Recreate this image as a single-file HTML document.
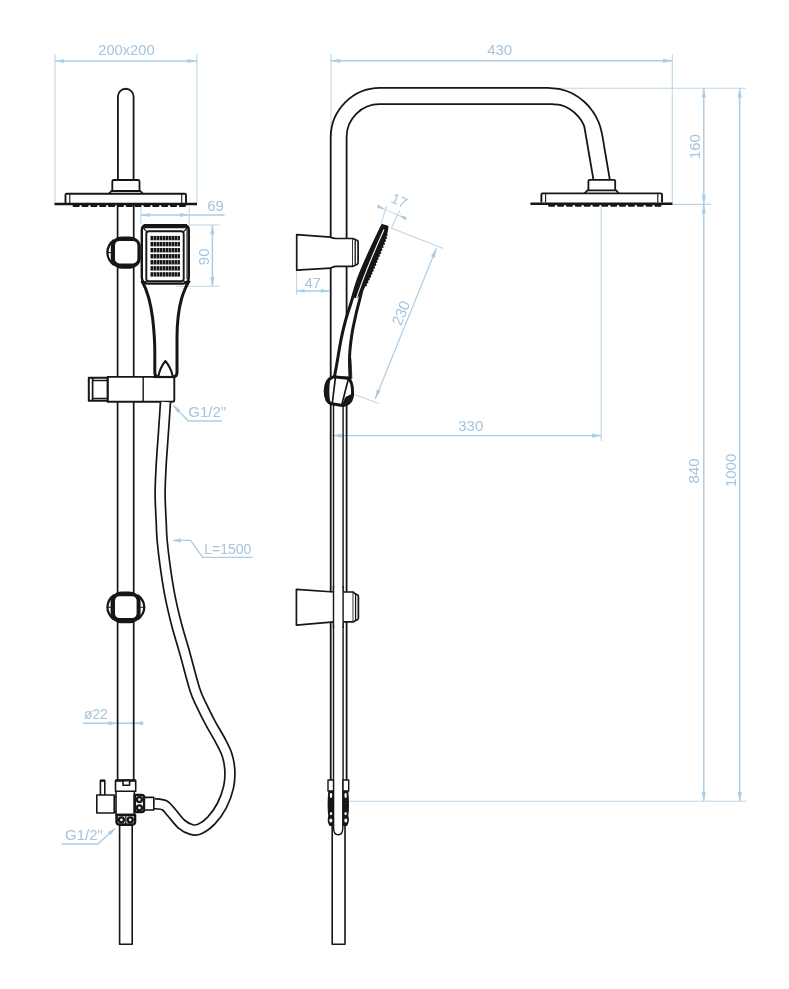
<!DOCTYPE html>
<html lang="pl">
<head>
<meta charset="utf-8">
<title>Shower column – technical drawing</title>
<style>
html,body{margin:0;padding:0;background:#fff;}
body{width:789px;height:989px;overflow:hidden;}
svg{display:block;font-family:"Liberation Sans","DejaVu Sans",sans-serif;}
</style>
</head>
<body>
<svg width="789" height="989" viewBox="0 0 789 989">
<rect width="789" height="989" fill="#ffffff"/>
<g id="left" fill="none" stroke="#161616" stroke-width="1.8" stroke-linejoin="round">
<path d="M117.9,180 V96.6 A7.85,7.85 0 0 1 133.6,96.6 V180"/>
<path d="M117.6,205 V780 M133.7,205 V780" stroke-width="1.7"/>
<path d="M119.6,824 V944.2 H132.2 V824" stroke-width="1.6"/>
<path d="M112.3,191 V181.5 Q112.3,180 113.8,180 H138 Q139.5,180 139.5,181.5 V191" fill="#fff"/>
<path d="M108.8,193.8 L111.5,191 H140.3 L143,193.8" fill="#fff"/>
<path d="M65.5,203 V195 Q65.5,193.8 66.7,193.8 H184.8 Q186,193.8 186,195 V203" fill="#fff" stroke-width="1.9"/>
<path d="M69.8,194 V203 M181.7,194 V203" stroke-width="1.1"/>
<path d="M54.5,204 H197" stroke-width="2.4"/>
<path d="M74.0,205.7 h4.4 M82.8,205.7 h4.4 M91.7,205.7 h4.4 M100.5,205.7 h4.4 M109.4,205.7 h4.4 M118.2,205.7 h4.4 M127.1,205.7 h4.4 M135.9,205.7 h4.4 M144.8,205.7 h4.4 M153.6,205.7 h4.4 M162.5,205.7 h4.4 M171.3,205.7 h4.4 M180.2,205.7 h4.4" stroke-width="2.8" stroke-linecap="round"/>
</g>
<g id="knob1" stroke="#161616" fill="none">
<path d="M114,240 Q107.4,245 107.4,252.6 Q107.4,260 114,265" stroke-width="2.2" fill="#fff"/>
<path d="M107,252.6 H112" stroke-width="1.1"/>
<rect x="110.8" y="236.4" width="30" height="32.3" rx="11" ry="10.5" fill="#161616" stroke="none"/>
<rect x="115" y="241" width="22.4" height="22.4" rx="4.5" ry="4.5" fill="#fff" stroke="none"/>
</g>
<g id="knob2" stroke="#161616" fill="none">
<path d="M114,595 Q107.4,600 107.4,607.3 Q107.4,614.5 114,619.6" stroke-width="2.2" fill="#fff"/>
<path d="M137.4,595 Q144.3,600 144.3,607.3 Q144.3,614.5 137.4,619.6" stroke-width="2.2" fill="#fff"/>
<path d="M107,607.3 H112 M139.5,607.3 H144.6" stroke-width="1.1"/>
<rect x="110.6" y="591.4" width="30" height="31.9" rx="11" ry="10.5" fill="#161616" stroke="none"/>
<rect x="115" y="596.3" width="21.6" height="21.7" rx="4.5" ry="4.5" fill="#fff" stroke="none"/>
</g>
<g id="hand" stroke="#161616" fill="none" stroke-linejoin="round">
<path d="M141.8,280.5 C146.5,289 150.6,302 152.6,318 C154,330 154.8,342 154.8,352 V372.6 Q154.8,377 159.2,377 H172.6 Q177,377 177,372.6 V338 C177,324 178.4,310 181.6,298.5 C184,290.5 186.6,285 189.4,280.5" fill="#fff" stroke-width="3"/>
<path d="M141.8,230 Q141.8,225.8 146,225.8 H184.6 Q188.8,225.8 188.8,230 V277 Q188.8,283.6 183,283.6 H147.6 Q141.8,283.6 141.8,277 Z" fill="#fff" stroke-width="2.4"/>
<path d="M143.6,226.2 H187" stroke-width="4.2"/>
<path d="M187,229 V279" stroke-width="1.1"/>
<rect x="146.3" y="231.3" width="37.4" height="50" rx="2.5" fill="#fff" stroke-width="1.9"/>
<path d="M142.6,227 L146.6,231.6 M188.2,227 L183.6,231.6 M142.8,282.6 L146.6,281 M188,282.6 L183.6,281" stroke-width="1.2"/>
<g fill="#161616" stroke="none"><rect x="150.50" y="235.90" width="2.55" height="4.4"/><rect x="153.49" y="235.90" width="2.55" height="4.4"/><rect x="156.48" y="235.90" width="2.55" height="4.4"/><rect x="159.47" y="235.90" width="2.55" height="4.4"/><rect x="162.46" y="235.90" width="2.55" height="4.4"/><rect x="165.45" y="235.90" width="2.55" height="4.4"/><rect x="168.44" y="235.90" width="2.55" height="4.4"/><rect x="171.43" y="235.90" width="2.55" height="4.4"/><rect x="174.42" y="235.90" width="2.55" height="4.4"/><rect x="177.41" y="235.90" width="2.55" height="4.4"/><rect x="150.50" y="241.95" width="2.55" height="4.4"/><rect x="153.49" y="241.95" width="2.55" height="4.4"/><rect x="156.48" y="241.95" width="2.55" height="4.4"/><rect x="159.47" y="241.95" width="2.55" height="4.4"/><rect x="162.46" y="241.95" width="2.55" height="4.4"/><rect x="165.45" y="241.95" width="2.55" height="4.4"/><rect x="168.44" y="241.95" width="2.55" height="4.4"/><rect x="171.43" y="241.95" width="2.55" height="4.4"/><rect x="174.42" y="241.95" width="2.55" height="4.4"/><rect x="177.41" y="241.95" width="2.55" height="4.4"/><rect x="150.50" y="248.00" width="2.55" height="4.4"/><rect x="153.49" y="248.00" width="2.55" height="4.4"/><rect x="156.48" y="248.00" width="2.55" height="4.4"/><rect x="159.47" y="248.00" width="2.55" height="4.4"/><rect x="162.46" y="248.00" width="2.55" height="4.4"/><rect x="165.45" y="248.00" width="2.55" height="4.4"/><rect x="168.44" y="248.00" width="2.55" height="4.4"/><rect x="171.43" y="248.00" width="2.55" height="4.4"/><rect x="174.42" y="248.00" width="2.55" height="4.4"/><rect x="177.41" y="248.00" width="2.55" height="4.4"/><rect x="150.50" y="254.05" width="2.55" height="4.4"/><rect x="153.49" y="254.05" width="2.55" height="4.4"/><rect x="156.48" y="254.05" width="2.55" height="4.4"/><rect x="159.47" y="254.05" width="2.55" height="4.4"/><rect x="162.46" y="254.05" width="2.55" height="4.4"/><rect x="165.45" y="254.05" width="2.55" height="4.4"/><rect x="168.44" y="254.05" width="2.55" height="4.4"/><rect x="171.43" y="254.05" width="2.55" height="4.4"/><rect x="174.42" y="254.05" width="2.55" height="4.4"/><rect x="177.41" y="254.05" width="2.55" height="4.4"/><rect x="150.50" y="260.10" width="2.55" height="4.4"/><rect x="153.49" y="260.10" width="2.55" height="4.4"/><rect x="156.48" y="260.10" width="2.55" height="4.4"/><rect x="159.47" y="260.10" width="2.55" height="4.4"/><rect x="162.46" y="260.10" width="2.55" height="4.4"/><rect x="165.45" y="260.10" width="2.55" height="4.4"/><rect x="168.44" y="260.10" width="2.55" height="4.4"/><rect x="171.43" y="260.10" width="2.55" height="4.4"/><rect x="174.42" y="260.10" width="2.55" height="4.4"/><rect x="177.41" y="260.10" width="2.55" height="4.4"/><rect x="150.50" y="266.15" width="2.55" height="4.4"/><rect x="153.49" y="266.15" width="2.55" height="4.4"/><rect x="156.48" y="266.15" width="2.55" height="4.4"/><rect x="159.47" y="266.15" width="2.55" height="4.4"/><rect x="162.46" y="266.15" width="2.55" height="4.4"/><rect x="165.45" y="266.15" width="2.55" height="4.4"/><rect x="168.44" y="266.15" width="2.55" height="4.4"/><rect x="171.43" y="266.15" width="2.55" height="4.4"/><rect x="174.42" y="266.15" width="2.55" height="4.4"/><rect x="177.41" y="266.15" width="2.55" height="4.4"/><rect x="150.50" y="272.20" width="2.55" height="4.4"/><rect x="153.49" y="272.20" width="2.55" height="4.4"/><rect x="156.48" y="272.20" width="2.55" height="4.4"/><rect x="159.47" y="272.20" width="2.55" height="4.4"/><rect x="162.46" y="272.20" width="2.55" height="4.4"/><rect x="165.45" y="272.20" width="2.55" height="4.4"/><rect x="168.44" y="272.20" width="2.55" height="4.4"/><rect x="171.43" y="272.20" width="2.55" height="4.4"/><rect x="174.42" y="272.20" width="2.55" height="4.4"/><rect x="177.41" y="272.20" width="2.55" height="4.4"/></g>
</g>
<g id="holder" stroke="#161616" fill="none" stroke-linejoin="round">
<path d="M107.6,376.9 H172.4 Q174.3,376.9 174.3,378.8 V399.8 Q174.3,401.7 172.4,401.7 H107.6 Z" fill="#fff" stroke-width="1.9"/>
<path d="M88.8,377.8 H107.6 V400.8 H88.8 Z" fill="#fff" stroke-width="2"/>
<path d="M92.6,378 V400.6" stroke-width="1.7"/><path d="M143.2,377 V401.6" stroke-width="1.4"/>
<path d="M92.6,380.4 H107 M92.6,398.4 H107" stroke-width="1.5"/>
<path d="M158.2,377.4 C159.4,370 162.2,364.8 165.4,361 C168.6,364.8 171.6,370 173,377.4" fill="#fff" stroke-width="2"/>
<path d="M153.4,377 H174.3" stroke-width="2.2"/>
</g>
<path d="M165.5,402.0 C165.2,407.2 164.1,422.8 163.4,433.0 C162.7,443.2 161.9,452.9 161.3,463.0 C160.8,473.1 160.1,483.4 160.1,493.6 C160.1,503.8 161.0,516.3 161.3,524.0 C161.6,531.7 161.5,533.5 162.1,540.0 C162.7,546.5 163.5,554.0 164.7,562.8 C165.9,571.6 167.5,582.9 169.4,593.0 C171.3,603.1 173.7,613.4 176.3,623.5 C178.9,633.6 181.9,642.7 185.0,653.8 C188.1,664.9 192.2,681.4 195.0,690.0 C197.8,698.6 198.9,699.6 201.5,705.2 C204.1,710.8 207.6,717.7 210.6,723.4 C213.6,729.1 217.0,734.1 219.7,739.3 C222.4,744.5 225.2,749.4 226.9,754.5 C228.6,759.6 229.5,764.6 229.8,770.0 C230.1,775.4 229.9,781.1 228.6,787.0 C227.3,792.9 224.9,799.7 222.0,805.3 C219.1,810.9 215.0,816.6 211.3,820.5 C207.6,824.4 203.3,827.4 200.0,828.9 C196.7,830.4 194.7,830.4 191.6,829.6 C188.5,828.8 185.0,827.1 181.7,824.3 C178.4,821.5 174.7,816.1 171.8,812.9 C168.9,809.7 167.3,806.8 164.3,805.2 C161.3,803.7 155.7,803.9 154.0,803.6" fill="none" stroke="#161616" stroke-width="11.7"/>
<path d="M165.5,402.0 C165.2,407.2 164.1,422.8 163.4,433.0 C162.7,443.2 161.9,452.9 161.3,463.0 C160.8,473.1 160.1,483.4 160.1,493.6 C160.1,503.8 161.0,516.3 161.3,524.0 C161.6,531.7 161.5,533.5 162.1,540.0 C162.7,546.5 163.5,554.0 164.7,562.8 C165.9,571.6 167.5,582.9 169.4,593.0 C171.3,603.1 173.7,613.4 176.3,623.5 C178.9,633.6 181.9,642.7 185.0,653.8 C188.1,664.9 192.2,681.4 195.0,690.0 C197.8,698.6 198.9,699.6 201.5,705.2 C204.1,710.8 207.6,717.7 210.6,723.4 C213.6,729.1 217.0,734.1 219.7,739.3 C222.4,744.5 225.2,749.4 226.9,754.5 C228.6,759.6 229.5,764.6 229.8,770.0 C230.1,775.4 229.9,781.1 228.6,787.0 C227.3,792.9 224.9,799.7 222.0,805.3 C219.1,810.9 215.0,816.6 211.3,820.5 C207.6,824.4 203.3,827.4 200.0,828.9 C196.7,830.4 194.7,830.4 191.6,829.6 C188.5,828.8 185.0,827.1 181.7,824.3 C178.4,821.5 174.7,816.1 171.8,812.9 C168.9,809.7 167.3,806.8 164.3,805.2 C161.3,803.7 155.7,803.9 154.0,803.6" fill="none" stroke="#fff" stroke-width="8.3"/>
<g id="valve" stroke="#161616" fill="#fff" stroke-width="1.6" stroke-linejoin="round">
<rect x="100.4" y="780.6" width="4.4" height="15"/>
<path d="M100.4,780.6 H104.8" stroke-width="2.2"/>
<rect x="96.8" y="795" width="17.4" height="18"/>
<path d="M114.2,797 H116 M114.2,811.6 H116"/>
<rect x="116" y="791.3" width="18.3" height="23.3"/>
<rect x="115.5" y="780.6" width="20.2" height="10.7"/>
<path d="M115.5,780.4 H135.7" stroke-width="2.4"/>
<rect x="123" y="780.6" width="6.6" height="4.6" />
<path d="M134.8,795 H141.4 Q144.2,795 144.2,797.8 V809.2 Q144.2,812 141.4,812 H134.8 Z" stroke-width="2.6"/>
<circle cx="139.4" cy="799.6" r="2.5" stroke-width="2.3"/><circle cx="139.4" cy="807.8" r="2.5" stroke-width="2.3"/>
<path d="M144.4,797.4 H153.8 V810 H144.4 Z"/>
<path d="M116.6,815 H135 V821.8 Q135,824.6 132.2,824.6 H119.4 Q116.6,824.6 116.6,821.8 Z" stroke-width="2.6"/>
<circle cx="121.4" cy="819.8" r="2.5" stroke-width="2.3"/><circle cx="130.2" cy="819.8" r="2.5" stroke-width="2.3"/>
<path d="M125.8,816 V824" stroke-width="1.2"/>
</g>
<g id="right" fill="none" stroke="#161616" stroke-width="1.8" stroke-linejoin="round">
<path d="M330.7,780 V137 A49.5,49.5 0 0 1 380,87.9 H548 C550.0,88.1 556.0,88.2 560.0,89.1 C564.0,90.0 568.1,91.2 572.1,93.3 C576.1,95.4 580.8,98.8 584.3,101.8 C587.8,104.8 590.4,108.1 592.8,111.6 C595.2,115.0 597.3,118.9 598.8,122.5 C600.3,126.1 601.0,129.2 601.9,133.4 C602.8,137.7 604.0,145.6 604.4,148.0 L609.8,179.4"/>
<path d="M346.6,780 V137 A33,33 0 0 1 380,104.2 H552 C553.5,104.4 558.0,104.4 561.0,105.2 C564.0,106.0 566.8,107.2 569.7,109.1 C572.6,111.0 575.9,113.8 578.2,116.4 C580.5,119.0 582.5,122.1 583.7,124.9 C584.9,127.7 584.8,129.6 585.5,133.4 C586.2,137.2 587.6,145.6 588.0,148.0 L593.4,179.4"/>
<path d="M333.5,404 V780 M343.1,404 V780" stroke-width="1.4"/>
<path d="M332.2,826 V944.2 H345 V826" stroke-width="1.6"/>
<path d="M588.4,190.4 V181.2 Q588.4,179.8 589.8,179.8 H613.8 Q615.2,179.8 615.2,181.2 V190.4" fill="#fff"/>
<path d="M584.4,193.6 L587.4,190.4 H616.2 L618.8,193.6" fill="#fff"/>
<path d="M541.4,202.4 V194.6 Q541.4,193.4 542.6,193.4 H660.8 Q662,193.4 662,194.6 V202.4" fill="#fff" stroke-width="1.9"/>
<path d="M545.6,193.6 V202.4 M657.8,193.6 V202.4" stroke-width="1.1"/>
<path d="M530.4,203.7 H672.4" stroke-width="2.4"/>
<path d="M549.5,205.4 h4.4 M558.4,205.4 h4.4 M567.2,205.4 h4.4 M576.1,205.4 h4.4 M584.9,205.4 h4.4 M593.8,205.4 h4.4 M602.6,205.4 h4.4 M611.5,205.4 h4.4 M620.3,205.4 h4.4 M629.2,205.4 h4.4 M638.0,205.4 h4.4 M646.9,205.4 h4.4 M655.7,205.4 h4.4" stroke-width="2.8" stroke-linecap="round"/>
</g>
<g stroke="#161616" fill="#fff" stroke-width="1.7" stroke-linejoin="round">
<path d="M296.7,234.6 L330.6,237.2 Q333,238.4 336,238.5 H353 V266.3 H336 Q333,266.5 330.6,268.1 L296.7,270.1 Z"/>
<path d="M353,238.5 L357.3,240.6 Q358.1,241 358.1,242 V262.8 Q358.1,263.8 357.3,264.2 L353,266.3"/>
<path d="M355.2,240.2 V264.6" stroke-width="1.3"/>
<path d="M296.4,589.3 L334,592 H353.4 V621.8 H334 L296.4,625.2 Z"/>
<path d="M353.4,592.7 L357.6,595 Q358.4,595.5 358.4,596.5 V618 Q358.4,619 357.6,619.5 L353.4,621.8"/>
<path d="M355.6,594.6 V620" stroke-width="1.3"/>
</g>
<rect x="333.5" y="588" width="9.6" height="38" fill="#fff"/>
<path d="M333.5,586 V628 M343.1,586 V628" stroke="#161616" stroke-width="1.4" fill="none"/>
<g id="handside" stroke="#161616" fill="none" stroke-linejoin="round">
<path d="M382.4,225.6 C380.1,230.5 372.6,246.0 368.6,254.9 C364.6,263.8 361.3,270.9 358.4,278.9 C355.5,286.9 353.2,296.0 351.0,303.0 C348.8,310.0 347.1,314.7 345.4,321.0 C343.7,327.3 342.2,333.5 340.8,340.7 C339.4,347.9 337.9,357.8 336.8,364.0 C335.7,370.2 334.6,375.7 334.2,378.0 L350.0,378.0 C349.9,374.3 349.3,363.0 349.6,355.8 C349.9,348.6 350.8,341.7 351.8,334.9 C352.8,328.1 354.5,320.8 355.8,315.0 C357.1,309.2 358.5,304.3 359.6,300.0 C360.7,295.7 361.1,292.5 362.4,289.0 C363.7,285.5 365.4,283.6 367.6,278.9 C369.8,274.2 372.6,267.5 375.4,260.6 C378.2,253.8 382.7,243.4 384.6,237.8 C386.5,232.2 386.6,228.8 387.0,227.0 Z" fill="#fff" stroke-width="3"/>
<path d="M382.4,225.6 C380.1,230.5 372.6,246.0 368.6,254.9 C364.6,263.8 361.1,271.9 358.4,278.9 C355.7,285.9 353.6,294.0 352.6,297.0 L357.0,297.0 C357.9,295.7 360.6,292.0 362.4,289.0 C364.2,286.0 365.4,283.6 367.6,278.9 C369.8,274.2 372.6,267.5 375.4,260.6 C378.2,253.8 382.7,243.4 384.6,237.8 C386.5,232.2 386.6,228.8 387.0,227.0 Z" fill="#161616" stroke-width="2"/>
<path d="M386.6,234.0 C386.4,235.0 387.1,235.3 385.4,240.0 C383.7,244.7 379.2,255.3 376.4,262.0 C373.6,268.7 370.5,275.8 368.6,280.0 C366.7,284.2 365.6,285.8 365.0,287.0" stroke-width="1.8" stroke-dasharray="1.7 1.5"/>
<path d="M384,229.6 C372,256 362,280 354.6,304" stroke="#fff" stroke-width="1.1"/>
<path d="M350.8,358 Q351.6,368 351.8,379" stroke-width="0.9"/>
<path d="M333.4,376.8 Q325.2,379.5 325.2,391 Q325.2,402 331.6,403.8 L342.4,405.6 Q352.6,404 352.6,393 Q352.6,380.5 347.6,378.2 Z" fill="#fff" stroke-width="3"/>
<path d="M335.4,377.6 L332.2,404 M348.6,378 L341.6,405.4" stroke-width="1.7"/>
<path d="M345.6,397.4 L351.6,394.6 Q351.4,403 342.6,405 Z" fill="#161616" stroke-width="1"/>
<path d="M329.5,379.5 Q324.4,390 329.4,402.4 Q327.6,390 329.5,379.5 Z" fill="#161616" stroke-width="1.6"/>
</g>
<g id="conn" stroke="#161616" fill="#fff" stroke-width="1.4" stroke-linejoin="round">
<path d="M329,791 Q327.6,806 329,816 Q327.4,821 330,825.4 H334.2 V791 Z" fill="#161616"/>
<path d="M347.6,791 Q349,806 347.6,816 Q349.2,821 346.6,825.4 H342.4 V791 Z" fill="#161616"/>
<rect x="328" y="780" width="5.6" height="11"/><rect x="342.8" y="780" width="5.9" height="11"/>
<path d="M333.6,780 V828 Q333.6,834.8 338.2,834.8 Q342.8,834.8 342.8,828 V780" fill="#fff" stroke-width="1.4"/>
<ellipse cx="331" cy="795.4" rx="1.2" ry="2.6" stroke="none"/><ellipse cx="345.6" cy="795.4" rx="1.2" ry="2.6" stroke="none"/>
<ellipse cx="331" cy="813.6" rx="1.2" ry="1.6" stroke="none"/><ellipse cx="345.6" cy="813.6" rx="1.2" ry="1.6" stroke="none"/>
<ellipse cx="330.8" cy="820.6" rx="1.5" ry="2" stroke="none"/><ellipse cx="345.8" cy="820.6" rx="1.5" ry="2" stroke="none"/>
</g>
<g id="dims" fill="none" style="mix-blend-mode:multiply">
<line x1="55" y1="54" x2="55" y2="204" stroke="#bcd7ea" stroke-width="1.1"/>
<line x1="196.9" y1="54" x2="196.9" y2="204" stroke="#bcd7ea" stroke-width="1.1"/>
<line x1="55" y1="61" x2="196.9" y2="61" stroke="#adcde4" stroke-width="1.5"/>
<polygon points="55.0,61.0 64.2,58.9 64.2,63.1" fill="#adcde4"/>
<polygon points="196.9,61.0 187.7,63.1 187.7,58.9" fill="#adcde4"/>
<text x="126.4" y="54.6" font-size="14.7" text-anchor="middle" fill="#a7c4da">200x200</text>
<line x1="140.8" y1="207" x2="140.8" y2="224" stroke="#bcd7ea" stroke-width="1.1"/>
<line x1="189.3" y1="207" x2="189.3" y2="226" stroke="#bcd7ea" stroke-width="1.1"/>
<line x1="140.8" y1="215" x2="224.5" y2="215" stroke="#adcde4" stroke-width="1.5"/>
<polygon points="140.8,215.0 150.0,212.9 150.0,217.1" fill="#adcde4"/>
<polygon points="189.3,215.0 180.1,217.1 180.1,212.9" fill="#adcde4"/>
<text x="215.5" y="211" font-size="15" text-anchor="middle" fill="#a7c4da">69</text>
<line x1="190" y1="225" x2="219.5" y2="225" stroke="#bcd7ea" stroke-width="1.1"/>
<line x1="176" y1="286.2" x2="219.5" y2="286.2" stroke="#bcd7ea" stroke-width="1.1"/>
<line x1="212.4" y1="225" x2="212.4" y2="286.2" stroke="#adcde4" stroke-width="1.5"/>
<polygon points="212.4,225.0 214.5,234.2 210.3,234.2" fill="#adcde4"/>
<polygon points="212.4,286.2 210.3,277.0 214.5,277.0" fill="#adcde4"/>
<text x="208.9" y="256.8" font-size="15" text-anchor="middle" fill="#a7c4da" transform="rotate(-90 208.9 256.8)">90</text>
<polyline points="173.6,405.8 188.4,421 222,421" stroke="#adcde4" stroke-width="1.4"/>
<polygon points="173.2,405.3 180.6,410.0 177.6,412.9" fill="#adcde4"/>
<text x="207.2" y="417.3" font-size="15" text-anchor="middle" fill="#a7c4da">G1/2"</text>
<polyline points="173,540.4 190.5,540.4 202.7,557.4 252.8,557.4" stroke="#adcde4" stroke-width="1.4"/>
<polygon points="172.5,540.4 181.0,538.3 181.0,542.5" fill="#adcde4"/>
<text x="227.8" y="553.7" font-size="14" text-anchor="middle" fill="#a7c4da">L=1500</text>
<line x1="83" y1="723.2" x2="143.5" y2="723.2" stroke="#adcde4" stroke-width="1.5"/>
<polygon points="117.0,723.2 108.5,725.3 108.5,721.1" fill="#adcde4"/>
<polygon points="134.3,723.2 142.8,721.1 142.8,725.3" fill="#adcde4"/>
<text x="95.9" y="719.2" font-size="13.8" text-anchor="middle" fill="#a7c4da">ø22</text>
<polyline points="61.9,844 97.8,844 115,828.5" stroke="#adcde4" stroke-width="1.4"/>
<polygon points="115.6,828.0 110.7,835.2 107.9,832.1" fill="#adcde4"/>
<text x="84" y="839.6" font-size="15" text-anchor="middle" fill="#a7c4da">G1/2"</text>
<line x1="331" y1="54" x2="331" y2="138" stroke="#bcd7ea" stroke-width="1.1"/>
<line x1="672.3" y1="54" x2="672.3" y2="203" stroke="#bcd7ea" stroke-width="1.1"/>
<line x1="331" y1="60.8" x2="672.3" y2="60.8" stroke="#adcde4" stroke-width="1.5"/>
<polygon points="331.0,60.8 340.2,58.7 340.2,62.9" fill="#adcde4"/>
<polygon points="672.3,60.8 663.1,62.9 663.1,58.7" fill="#adcde4"/>
<text x="499.7" y="54.6" font-size="15" text-anchor="middle" fill="#a7c4da">430</text>
<line x1="549" y1="88.3" x2="746" y2="88.3" stroke="#bcd7ea" stroke-width="1.1"/>
<line x1="672" y1="204.4" x2="711" y2="204.4" stroke="#bcd7ea" stroke-width="1.1"/>
<line x1="703.8" y1="88.3" x2="703.8" y2="801.2" stroke="#adcde4" stroke-width="1.5"/>
<polygon points="703.8,88.3 705.9,97.5 701.7,97.5" fill="#adcde4"/>
<polygon points="703.8,204.4 701.7,195.2 705.9,195.2" fill="#adcde4"/>
<polygon points="703.8,204.4 705.9,213.6 701.7,213.6" fill="#adcde4"/>
<polygon points="703.8,801.2 701.7,792.0 705.9,792.0" fill="#adcde4"/>
<text x="699.8" y="146.6" font-size="15" text-anchor="middle" fill="#a7c4da" transform="rotate(-90 699.8 146.6)">160</text>
<text x="699.4" y="471" font-size="15" text-anchor="middle" fill="#a7c4da" transform="rotate(-90 699.4 471)">840</text>
<line x1="739.7" y1="88.3" x2="739.7" y2="801.2" stroke="#adcde4" stroke-width="1.5"/>
<polygon points="739.7,88.3 741.8,97.5 737.6,97.5" fill="#adcde4"/>
<polygon points="739.7,801.2 737.6,792.0 741.8,792.0" fill="#adcde4"/>
<text x="736.4" y="470.4" font-size="15" text-anchor="middle" fill="#a7c4da" transform="rotate(-90 736.4 470.4)">1000</text>
<line x1="348" y1="801.2" x2="746.5" y2="801.2" stroke="#bcd7ea" stroke-width="1.1"/>
<line x1="601.2" y1="204" x2="601.2" y2="441" stroke="#bcd7ea" stroke-width="1.1"/>
<line x1="332.5" y1="435.6" x2="601.2" y2="435.6" stroke="#adcde4" stroke-width="1.2"/>
<polygon points="332.5,435.6 341.7,433.5 341.7,437.7" fill="#adcde4"/>
<polygon points="601.2,435.6 592.0,437.7 592.0,433.5" fill="#adcde4"/>
<text x="470.8" y="430.6" font-size="15" text-anchor="middle" fill="#a7c4da">330</text>
<line x1="296.6" y1="270" x2="296.6" y2="295" stroke="#bcd7ea" stroke-width="1.1"/>
<line x1="296.6" y1="290.9" x2="329" y2="290.9" stroke="#adcde4" stroke-width="1.5"/>
<polygon points="296.6,290.9 304.6,289.1 304.6,292.7" fill="#adcde4"/>
<polygon points="329.0,290.9 321.0,292.7 321.0,289.1" fill="#adcde4"/>
<text x="312.7" y="288" font-size="14.4" text-anchor="middle" fill="#a7c4da">47</text>
<line x1="381" y1="224" x2="386.6" y2="206" stroke="#bcd7ea" stroke-width="1.1"/>
<line x1="391" y1="229" x2="399.6" y2="210.5" stroke="#bcd7ea" stroke-width="1.1"/>
<line x1="377.7" y1="206.4" x2="407" y2="219" stroke="#bcd7ea" stroke-width="0.9"/>
<polygon points="385.0,209.5 376.9,208.1 378.4,204.6" fill="#adcde4"/>
<polygon points="398.6,215.3 406.7,216.7 405.2,220.2" fill="#adcde4"/>
<text x="397.3" y="205.2" font-size="14.4" text-anchor="middle" fill="#a7c4da" transform="rotate(23 397.3 205.2)">17</text>
<line x1="391" y1="228" x2="443.4" y2="248.5" stroke="#bcd7ea" stroke-width="1.1"/>
<line x1="351.3" y1="393.6" x2="379" y2="403.4" stroke="#bcd7ea" stroke-width="1.1"/>
<line x1="436.4" y1="248.3" x2="375.2" y2="399" stroke="#adcde4" stroke-width="1.2"/>
<polygon points="436.4,248.3 434.8,257.9 430.9,256.3" fill="#adcde4"/>
<polygon points="375.2,399.0 376.8,389.4 380.7,391.0" fill="#adcde4"/>
<text x="405.8" y="315" font-size="15" text-anchor="middle" fill="#a7c4da" transform="rotate(-67.9 405.8 315)">230</text>
</g>
</svg>
</body>
</html>
